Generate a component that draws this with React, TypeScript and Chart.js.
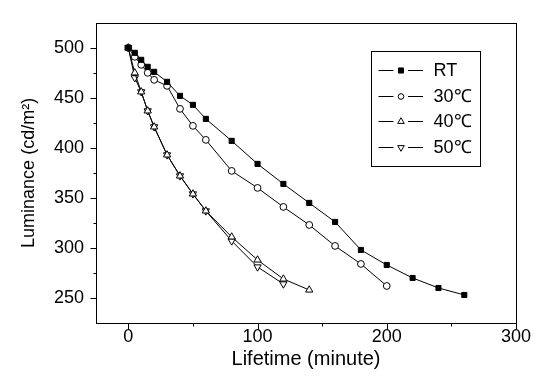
import React, { useEffect, useRef } from "react";
import { Chart, registerables } from "chart.js";
import { drawPoint } from "chart.js/helpers";

Chart.register(...registerables);

const rtX = [0, 5, 10, 15, 20, 30, 40, 50, 60, 80, 100, 120, 140, 160, 180, 200, 220, 240, 260];
const rtY = [500, 495, 488, 481, 476, 466, 452, 443, 429, 407, 384, 364, 345, 326, 298, 283, 270, 260, 253];

const c30X = [0, 5, 10, 15, 20, 30, 40, 50, 60, 80, 100, 120, 140, 160, 180, 200];
const c30Y = [500, 491, 483, 475, 468, 462, 439, 422, 408, 377, 360, 341, 323, 302, 284, 262];

const c40X = [0, 5, 10, 15, 20, 30, 40, 50, 60, 80, 100, 120, 140];
const c40Y = [500, 475, 456, 437, 421, 393, 372, 354, 337, 311, 288, 269, 258];

const c50X = [0, 5, 10, 15, 20, 30, 40, 50, 60, 80, 100, 120];
const c50Y = [500, 470, 456, 437, 421, 393, 372, 354, 337, 307, 281, 264];

const seriesLabels = ["RT", "30℃", "40℃", "50℃"];
const xTicks = [0, 100, 200, 300];
const xMinor = [50, 150, 250];
const yTicks = [250, 300, 350, 400, 450, 500];
const yMinor = [275, 325, 375, 425, 475];

const xTitle = "Lifetime (minute)";
const yTitle = "Luminance (cd/m²)";

const FONT = "'Liberation Sans', Arial, sans-serif";

const pts = (xs: number[], ys: number[]) => xs.map((x, i) => ({ x, y: ys[i] }));

const markerStyles = [
  { pointStyle: "rect", radius: 3.6, legendRadius: 3.6, rotation: 0, fill: "#000" },
  { pointStyle: "circle", radius: 3.4, legendRadius: 2.8, rotation: 0, fill: "#fff" },
  { pointStyle: "triangle", radius: 4.2, legendRadius: 3.8, rotation: 0, fill: "#fff" },
  { pointStyle: "triangle", radius: 4.2, legendRadius: 3.8, rotation: 180, fill: "#fff" },
];

const framePlugin = {
  id: "frameAndLegend",
  afterDraw(chart: any) {
    const { ctx, chartArea: a, scales } = chart;
    const xs = scales.x;
    const ys = scales.y;
    ctx.save();
    ctx.strokeStyle = "#000";
    ctx.lineWidth = 1;
    const L = Math.round(a.left) + 0.5;
    const R = Math.round(a.right) + 0.5;
    const T = Math.round(a.top) + 0.5;
    const B = Math.round(a.bottom) + 0.5;
    ctx.strokeRect(L, T, R - L, B - T);
    ctx.beginPath();
    yTicks.forEach((v) => {
      const y = Math.round(ys.getPixelForValue(v)) + 0.5;
      ctx.moveTo(L, y);
      ctx.lineTo(L - 6, y);
    });
    yMinor.forEach((v) => {
      const y = Math.round(ys.getPixelForValue(v)) + 0.5;
      ctx.moveTo(L, y);
      ctx.lineTo(L - 3, y);
    });
    xTicks.forEach((v) => {
      const x = Math.round(xs.getPixelForValue(v)) + 0.5;
      ctx.moveTo(x, B);
      ctx.lineTo(x, B + 6);
    });
    xMinor.forEach((v) => {
      const x = Math.round(xs.getPixelForValue(v)) + 0.5;
      ctx.moveTo(x, B);
      ctx.lineTo(x, B + 3);
    });
    ctx.stroke();

    // legend
    const boxL = Math.round(a.right) - 145 + 0.5;
    const boxR = Math.round(a.right) - 36 + 0.5;
    const boxT = Math.round(a.top) + 28 + 0.5;
    const boxB = Math.round(a.top) + 143 + 0.5;
    ctx.strokeRect(boxL, boxT, boxR - boxL, boxB - boxT);
    const rowY = [47, 73, 98, 124];
    ctx.font = `18px ${FONT}`;
    ctx.textBaseline = "middle";
    ctx.textAlign = "left";
    ctx.fillStyle = "#000";
    seriesLabels.forEach((lab, i) => {
      const y = Math.round(a.top + rowY[i]) + 0.5;
      const x0 = boxL + 7;
      ctx.beginPath();
      ctx.moveTo(x0, y);
      ctx.lineTo(x0 + 15, y);
      ctx.moveTo(x0 + 29.5, y);
      ctx.lineTo(x0 + 44.5, y);
      ctx.stroke();
      const m = markerStyles[i];
      ctx.fillStyle = m.fill;
      ctx.strokeStyle = "#000";
      ctx.lineWidth = 1;
      drawPoint(ctx, { pointStyle: m.pointStyle, radius: m.legendRadius, rotation: m.rotation, borderWidth: 1 } as any, x0 + 22.5, y);
      ctx.fillStyle = "#000";
      ctx.fillText(lab, x0 + 55, y + 1);
    });
    ctx.restore();
  },
};

export default function App() {
  const ref = useRef<HTMLCanvasElement>(null);
  useEffect(() => {
    if (!ref.current) return;
    const mk = (i: number, data: any[]) => ({
      label: seriesLabels[i],
      data,
      borderColor: "#000",
      borderWidth: 1,
      backgroundColor: markerStyles[i].fill,
      pointBackgroundColor: markerStyles[i].fill,
      pointBorderColor: "#000",
      pointBorderWidth: 1,
      pointStyle: markerStyles[i].pointStyle,
      pointRotation: markerStyles[i].rotation,
      pointRadius: markerStyles[i].radius,
      tension: 0,
      fill: false,
    });
    const chart = new Chart(ref.current, {
      type: "line",
      data: {
        datasets: [
          mk(0, pts(rtX, rtY)),
          mk(1, pts(c30X, c30Y)),
          mk(2, pts(c40X, c40Y)),
          mk(3, pts(c50X, c50Y)),
        ],
      },
      options: {
        responsive: false,
        animation: false,
        devicePixelRatio: 1,
        layout: { padding: { top: 4, right: 29, left: 0, bottom: 0 } },
        plugins: { legend: { display: false }, tooltip: { enabled: false } },
        scales: {
          x: {
            type: "linear",
            min: -25,
            max: 300,
            afterBuildTicks: (s: any) => {
              s.ticks = xTicks.map((v) => ({ value: v }));
            },
            afterFit: (s: any) => {
              s.height = 61;
            },
            grid: { display: false, drawTicks: false },
            border: { display: false },
            ticks: { color: "#000", font: { family: FONT, size: 18 }, padding: 3, maxRotation: 0 },
            title: {
              display: true,
              text: xTitle,
              color: "#000",
              font: { family: FONT, size: 20 },
              padding: { top: 0, bottom: 13 },
            },
          },
          y: {
            type: "linear",
            min: 225,
            max: 525,
            afterBuildTicks: (s: any) => {
              s.ticks = yTicks.map((v) => ({ value: v }));
            },
            afterFit: (s: any) => {
              s.width = 96;
            },
            grid: { display: false, drawTicks: false },
            border: { display: false },
            ticks: { color: "#000", font: { family: FONT, size: 18 }, padding: 12 },
            title: {
              display: true,
              text: yTitle,
              color: "#000",
              font: { family: FONT, size: 18 },
              padding: { top: 18, bottom: 0 },
            },
          },
        },
      },
      plugins: [framePlugin],
    } as any);
    return () => chart.destroy();
  }, []);
  return (
    <div style={{ position: "fixed", left: 0, top: 0, width: 545, height: 384, background: "#fff" }}>
      <canvas ref={ref} width={545} height={384} />
    </div>
  );
}
